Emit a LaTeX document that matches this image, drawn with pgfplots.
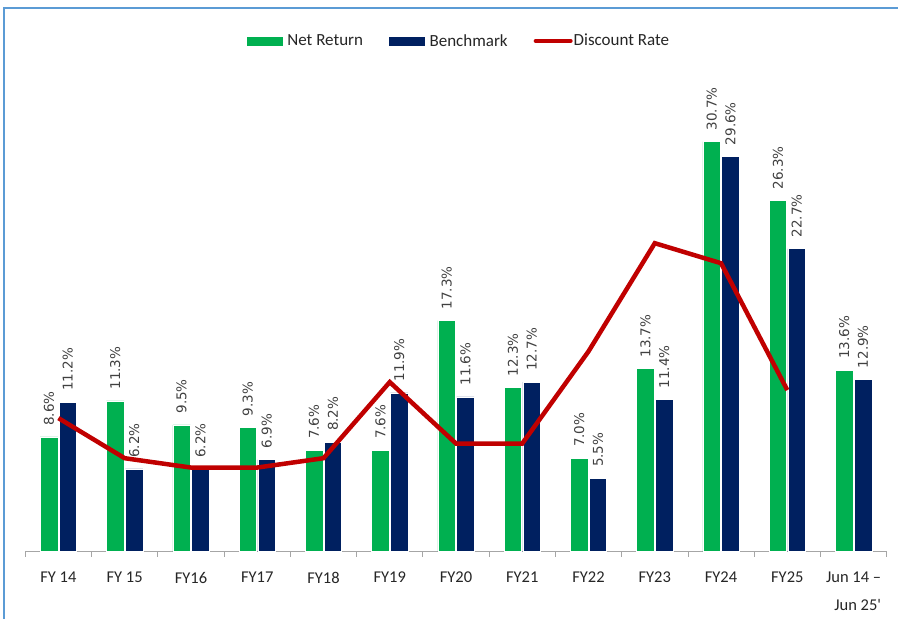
\documentclass[border=0pt]{standalone}
\usepackage{pgfplots}
\usepackage{pgfplotstable}
\pgfplotsset{compat=1.18}
\usepackage{fontspec}
\setmainfont{Carlito}[Ligatures=TeXOff]
\newfontfamily\dejavu{DejaVu Sans}
\definecolor{netgreen}{HTML}{00B050}
\definecolor{bmnavy}{HTML}{002060}
\definecolor{discred}{HTML}{C00000}
\definecolor{framebl}{HTML}{5B9BD5}
\definecolor{lblgray}{HTML}{404040}
\pgfplotstableread{
i net bm
0 8.6 11.2
1 11.3 6.2
2 9.5 6.2
3 9.3 6.9
4 7.6 8.2
5 7.6 11.9
6 17.3 11.6
7 12.3 12.7
8 7.0 5.5
9 13.7 11.4
10 30.7 29.6
11 26.3 22.7
12 13.6 12.9
}\bars
\pgfplotstableread{
i rate
0 10.0
1 7.0
2 6.3
3 6.3
4 7.0
5 12.7
6 8.1
7 8.1
8 15.0
9 23.1
10 21.6
11 12.1
}\disc
\begin{document}
\begin{tikzpicture}
\path[use as bounding box] (0,0) rectangle (898bp,619bp);
\fill[white] (0,0) rectangle (898bp,619bp);
\draw[framebl, line width=1.2bp] (4bp,0) -- (4bp,611bp) -- (898bp,611bp);
\begin{axis}[
  at={(25.3bp,67.3bp)}, anchor=south west,
  scale only axis, width=861.4bp, height=480.8bp,
  xmin=-0.5, xmax=12.5, ymin=0, ymax=36,
  clip=false,
  /pgf/number format/assume math mode=true,
  axis y line=none,
  axis x line*=bottom,
  x axis line style={draw=gray!70, line width=0.8bp, -},
  xtick={0,...,12},
  xticklabels={FY 14, FY 15, FY16, FY17, FY18, FY19, FY20, FY21, FY22, FY23, FY24, FY25, {Jun 14 –\\Jun 25'}},
  major x tick style={draw=none},
  minor xtick={-0.5,0.5,...,12.5},
  minor x tick style={draw=gray!70, line width=0.8bp},
  minor tick length=5bp, major tick length=0pt, tick align=outside,
  xticklabel style={font=\fontsize{16.5bp}{28bp}\selectfont, text=black!85, align=right, yshift=-17bp},
  legend style={draw=none, fill=none, legend columns=3, at={(0.5,1)}, anchor=center, yshift=30bp, xshift=2bp,
    font=\fontsize{17bp}{20bp}\selectfont, text=black!85,
    nodes={inner sep=0pt}},
  barlbl/.style={
    nodes near coords={\pgfmathprintnumber[fixed,fixed zerofill,precision=1]{\pgfplotspointmeta}\%},
    nodes near coords align={anchor=west},
    every node near coord/.style={rotate=90, anchor=west, font=\dejavu\fontsize{13.5bp}{15bp}\selectfont, text=lblgray, inner xsep=11bp, inner ysep=0pt},
  },
]
\addplot[ybar, bar width=17.6bp, bar shift=0pt, fill=netgreen, draw=white, line width=0.5bp, barlbl,
  legend image code/.code={\fill[netgreen] (0bp,-4bp) rectangle (35bp,4bp);}]
  table[x expr=\thisrow{i}-0.1419, y=net] {\bars};
\addlegendentry{\rule{5bp}{0pt}Net Return\rule{26bp}{0pt}}
\addplot[ybar, bar width=17.6bp, bar shift=0pt, fill=bmnavy, draw=white, line width=0.5bp, barlbl,
  legend image code/.code={\fill[bmnavy] (0bp,-4bp) rectangle (35bp,4bp);}]
  table[x expr=\thisrow{i}+0.1419, y=bm] {\bars};
\addlegendentry{\rule{5bp}{0pt}Benchmark\rule{26bp}{0pt}}
\addplot[sharp plot, discred, line width=4.5bp, mark=none,
  legend image code/.code={\draw[discred, line width=4bp, line cap=round] (2bp,0bp) -- (37bp,0bp);}]
  table[x=i, y=rate] {\disc};
\addlegendentry{\rule{1bp}{0pt}Discount Rate}
\end{axis}
\end{tikzpicture}
\end{document}
